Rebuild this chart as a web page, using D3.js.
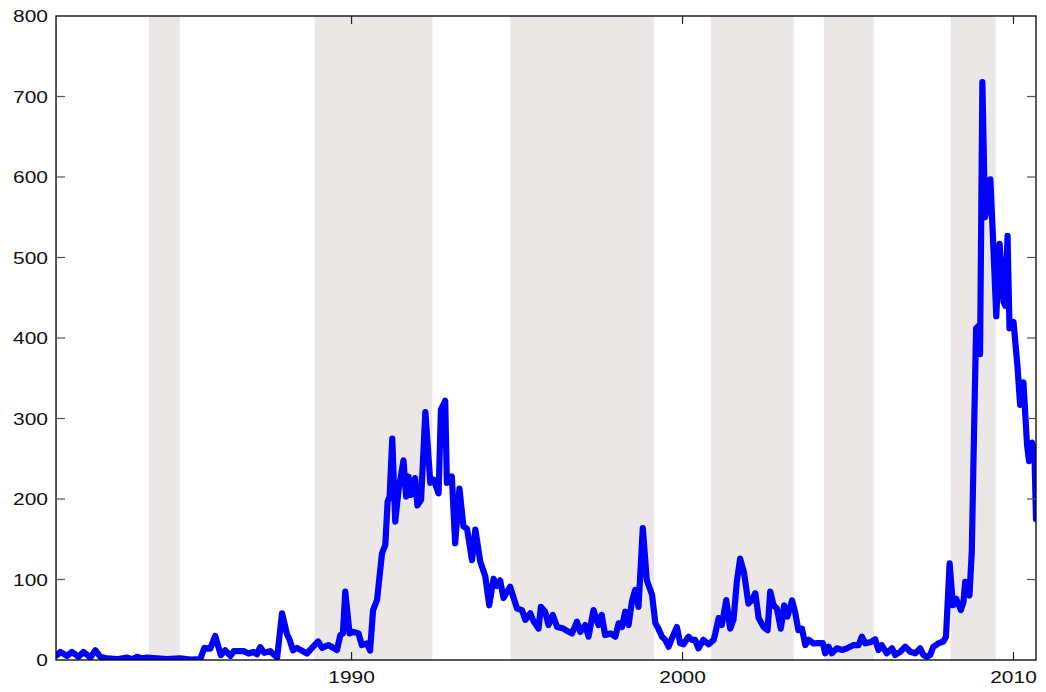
<!DOCTYPE html>
<html>
<head>
<meta charset="utf-8">
<script src="https://cdn.jsdelivr.net/npm/d3@7/dist/d3.min.js"></script>
<style>
html,body{margin:0;padding:0;background:#fff;overflow:hidden;}
svg{display:block;}
text{font-family:"Liberation Sans",Arial,Helvetica,sans-serif;fill:#111;}
</style>
</head>
<body>
<svg id="chart" width="1046" height="692"></svg>
<script>
const years = [
1981.10,1981.20,1981.40,1981.55,1981.75,1981.90,1982.11,1982.26,1982.41,1982.61,
1982.91,1983.21,1983.37,1983.52,1983.67,1983.82,1984.12,1984.42,1984.82,1985.13,
1985.43,1985.55,1985.73,1985.88,1985.95,1986.05,1986.18,1986.34,1986.44,1986.74,
1986.89,1987.04,1987.14,1987.24,1987.36,1987.54,1987.75,1987.90,1988.05,1988.13,
1988.23,1988.35,1988.65,1988.84,1988.99,1989.11,1989.30,1989.56,1989.66,1989.74,
1989.81,1989.94,1990.06,1990.21,1990.31,1990.47,1990.56,1990.65,1990.77,1990.92,
1991.02,1991.09,1991.15,1991.23,1991.32,1991.42,1991.57,1991.65,1991.72,1991.80,
1991.92,1991.99,1992.10,1992.23,1992.38,1992.48,1992.63,1992.70,1992.83,1992.88,
1993.03,1993.13,1993.26,1993.38,1993.49,1993.64,1993.74,1993.89,1994.04,1994.16,
1994.29,1994.39,1994.49,1994.59,1994.79,1995.00,1995.15,1995.25,1995.40,1995.50,
1995.65,1995.72,1995.85,1995.95,1996.08,1996.21,1996.40,1996.56,1996.66,1996.81,
1996.91,1997.06,1997.16,1997.31,1997.46,1997.56,1997.66,1997.82,1997.97,1998.07,
1998.17,1998.27,1998.37,1998.47,1998.57,1998.67,1998.80,1998.92,1999.08,1999.18,
1999.27,1999.38,1999.48,1999.58,1999.68,1999.83,1999.93,2000.03,2000.18,2000.28,
2000.38,2000.48,2000.63,2000.79,2000.94,2000.99,2001.09,2001.19,2001.32,2001.44,
2001.54,2001.64,2001.74,2001.86,2001.99,2002.10,2002.20,2002.30,2002.45,2002.57,
2002.65,2002.75,2002.85,2002.97,2003.07,2003.17,2003.31,2003.40,2003.50,2003.61,
2003.71,2003.81,2003.96,2004.11,2004.24,2004.31,2004.41,2004.51,2004.66,2004.82,
2004.97,2005.17,2005.32,2005.42,2005.52,2005.67,2005.82,2005.92,2006.02,2006.17,
2006.33,2006.43,2006.58,2006.73,2006.88,2007.03,2007.18,2007.28,2007.38,2007.48,
2007.58,2007.73,2007.88,2007.96,2008.07,2008.17,2008.27,2008.41,2008.49,2008.54,
2008.61,2008.67,2008.74,2008.79,2008.87,2008.94,2008.99,2009.06,2009.14,2009.24,
2009.30,2009.38,2009.48,2009.58,2009.70,2009.75,2009.82,2009.88,2010.00,2010.12,
2010.20,2010.30,2010.41,2010.47,2010.56,2010.63,2010.68
];
const values = [
6,10,5,10,4,10,3,12,4,2,
1,3,1,4,2,3,2,1,2,0.5,
1,15,14,30,20,6,12,5,11,11,
8,10,7,16,9,11,3,58,32,25,
12,15,8,16.5,23,15,18.6,12.4,31,33,
85,33,35,33,18.6,20.7,11.6,62,74.5,132.5,
143,197,203,275,172,211,248,203,228,205,
226,192,199,308,220,224,207,311,322,220,
228,145,213,166,163,124,162,122,104,68,
101,92,99,77,91,64,62,50,58,48,
39,66,60,43.5,56,41,39,35,33,47.6,
35,43.5,29,62,43.5,56,31,33,29,45.6,
41,60,43.5,72.5,87,66,164,99,81,45.6,
39,29,25,16.5,27,41,20.7,19.5,29,25,
25,14.5,25,19.5,25,33,52,43.5,74.5,39,
50,97,126,108,70,74.5,83,52,41,37,
85,68,64,39,68,54,74,60,37,39,
18.6,25,20.7,21,21,8.3,16.5,8.3,14.5,12.4,
14.5,18.6,18.6,29,20.7,22,25.7,12.4,18.6,8.3,
14.5,6.2,10.3,16.5,10.3,8.3,14.5,6.2,4,6.2,
16.5,20.7,23,29,120,68,76,62,72,97,
90,80,135,245,412,415,380,718,550,567,
597,525,427,517,445,440,527,412,420,365,
317,345,267,247,270,262,175
];
const bandStart = [1980.5, 1983.88, 1988.88, 1994.80, 2000.86, 2004.27, 2008.10];
const bandEnd   = [1981.10, 1984.81, 1992.44, 1999.14, 2003.36, 2005.78, 2009.46];
const yTicks = [0,100,200,300,400,500,600,700,800];
const xTicks = [1990,2000,2010];

const svg = d3.select("#chart");
const L = 56, R = 1036, T = 16, B = 660;
const x = d3.scaleLinear().domain([1981.07, 2010.68]).range([L, R]);
const y = d3.scaleLinear().domain([0, 800]).range([B, T]);

svg.append("defs").append("clipPath").attr("id","clip")
  .append("rect").attr("x",L).attr("y",T).attr("width",R-L).attr("height",B-T);

const plot = svg.append("g").attr("clip-path","url(#clip)");
plot.selectAll("rect.band").data(bandStart.map((s,i)=>[s,bandEnd[i]])).enter()
  .append("rect").attr("class","band")
  .attr("x", d=>x(d[0])).attr("y", T)
  .attr("width", d=>x(d[1])-x(d[0])).attr("height", B-T)
  .attr("fill", "#ebe7e7");

const pts = years.map((yr,i)=>[yr, values[i]]);
plot.append("path").datum(pts)
  .attr("fill","none").attr("stroke","#0000ff").attr("stroke-width",6.2)
  .attr("stroke-linejoin","round").attr("stroke-linecap","round")
  .attr("d", d3.line().x(d=>x(d[0])).y(d=>y(d[1])));

// box
const ax = svg.append("g");
ax.append("rect").attr("x",L).attr("y",T).attr("width",R-L).attr("height",B-T)
  .attr("fill","none").attr("stroke","#000").attr("stroke-width",1.3);

// y ticks (left and right, inward)
ax.selectAll("line.yl").data(yTicks.filter(v=>v>0&&v<800)).enter().append("line")
  .attr("x1",L).attr("x2",L+9).attr("y1",d=>y(d)).attr("y2",d=>y(d))
  .attr("stroke","#555").attr("stroke-width",1.2);
ax.selectAll("line.yr").data(yTicks.filter(v=>v>0&&v<800)).enter().append("line")
  .attr("x1",R-9).attr("x2",R).attr("y1",d=>y(d)).attr("y2",d=>y(d))
  .attr("stroke","#555").attr("stroke-width",1.2);
// x ticks (bottom and top, inward)
ax.selectAll("line.xb").data(xTicks).enter().append("line")
  .attr("x1",d=>x(d)).attr("x2",d=>x(d)).attr("y1",B).attr("y2",B-8)
  .attr("stroke","#222").attr("stroke-width",1.2);
ax.selectAll("line.xt").data(xTicks).enter().append("line")
  .attr("x1",d=>x(d)).attr("x2",d=>x(d)).attr("y1",T).attr("y2",T+8)
  .attr("stroke","#222").attr("stroke-width",1.2);

// labels (horizontally stretched like the reference)
ax.selectAll("text.yl").data(yTicks).enter().append("text")
  .attr("transform", d=>`translate(48,${y(d)+6}) scale(1.27,1)`)
  .attr("text-anchor","end").attr("font-size","16.5px").text(d=>d);
ax.selectAll("text.xl").data(xTicks).enter().append("text")
  .attr("transform", d=>`translate(${x(d)},683) scale(1.27,1)`)
  .attr("text-anchor","middle").attr("font-size","16.5px").text(d=>d);
</script>
</body>
</html>
